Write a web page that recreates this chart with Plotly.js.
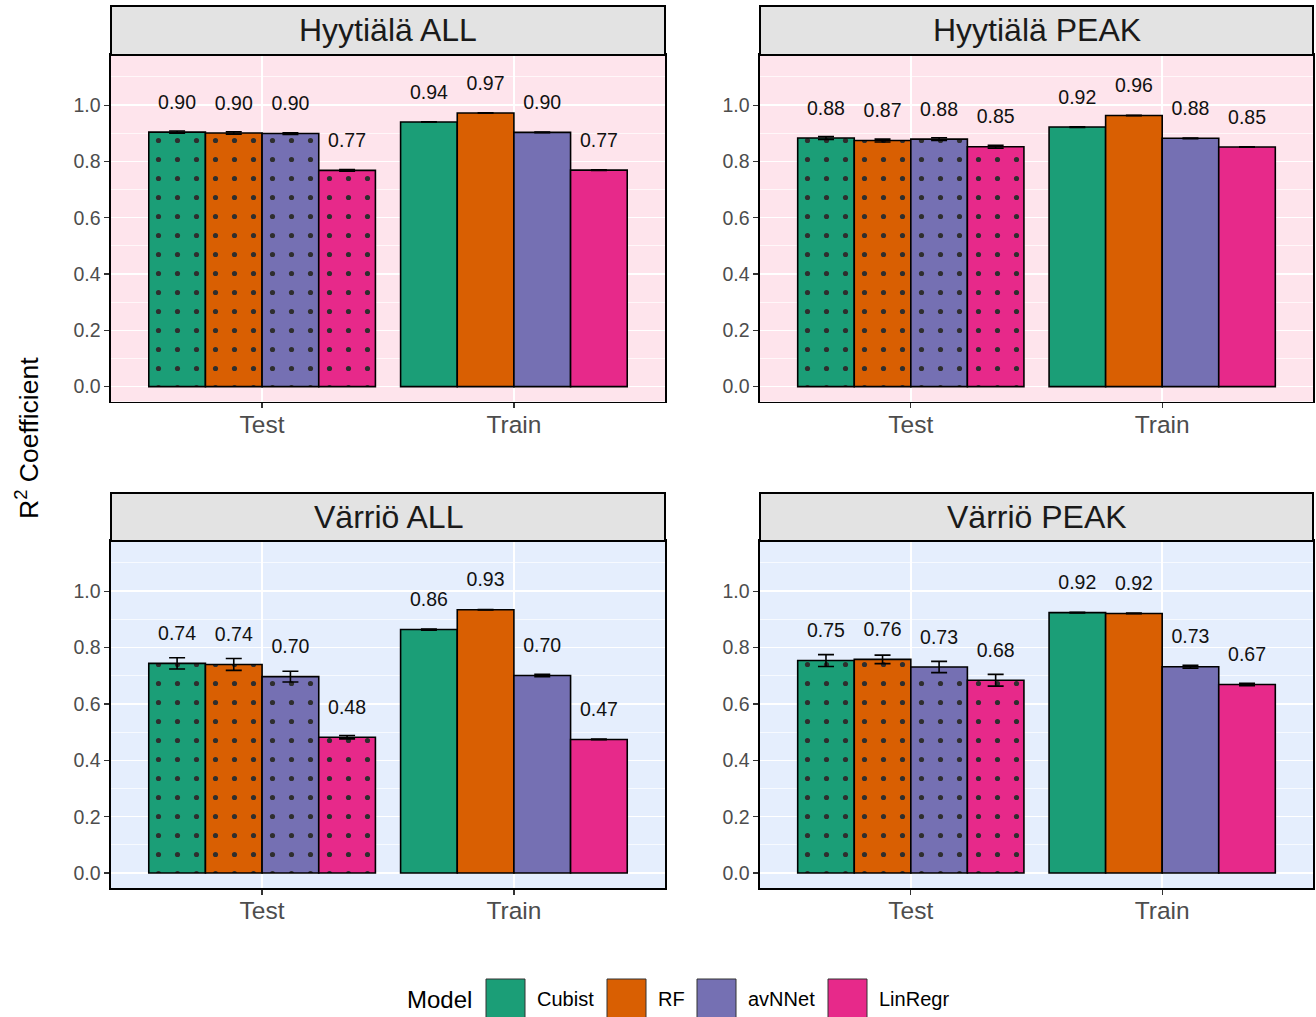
<!DOCTYPE html>
<html><head><meta charset="utf-8">
<script src="https://cdn.plot.ly/plotly-3.0.1.min.js"></script>
<style>html,body{margin:0;padding:0;background:#fff;}#chart{width:1316px;height:1017px;}</style>
</head><body><div id="chart"></div>
<script>
// ---------------- DATA ----------------
const categories = ['Test', 'Train'];
const models = ['Cubist', 'RF', 'avNNet', 'LinRegr'];
const panelTitles = ['Hyytiälä ALL', 'Hyytiälä PEAK', 'Värriö ALL', 'Värriö PEAK'];
const yTickLabels = ['0.0', '0.2', '0.4', '0.6', '0.8', '1.0'];
const yTickValues = [0, 0.2, 0.4, 0.6, 0.8, 1.0];

// values per model (Cubist, RF, avNNet, LinRegr)
const hyyAllTest      = [0.904, 0.901, 0.899, 0.768];
const hyyAllTestErr   = [0.004, 0.004, 0.003, 0.003];
const hyyAllTrain     = [0.940, 0.972, 0.903, 0.769];
const hyyAllTrainErr  = [0.001, 0.001, 0.001, 0.001];

const hyyPeakTest     = [0.883, 0.874, 0.879, 0.852];
const hyyPeakTestErr  = [0.005, 0.005, 0.005, 0.005];
const hyyPeakTrain    = [0.922, 0.963, 0.882, 0.851];
const hyyPeakTrainErr = [0.001, 0.001, 0.001, 0.001];

const varAllTest      = [0.744, 0.740, 0.697, 0.482];
const varAllTestErr   = [0.020, 0.021, 0.019, 0.006];
const varAllTrain     = [0.864, 0.934, 0.701, 0.474];
const varAllTrainErr  = [0.002, 0.001, 0.004, 0.001];

const varPeakTest     = [0.754, 0.758, 0.731, 0.684];
const varPeakTestErr  = [0.021, 0.015, 0.020, 0.021];
const varPeakTrain    = [0.924, 0.921, 0.732, 0.669];
const varPeakTrainErr = [0.001, 0.001, 0.005, 0.004];

// ---------------- STYLE / LAYOUT ----------------
const modelColors = ['#1B9E77', '#D95F02', '#7570B3', '#E7298A'];
const panelBg = ['#FEE4EC', '#FEE4EC', '#E5EEFD', '#E5EEFD'];
const W = 1316, H = 1017;
const FONT = 'Liberation Sans, Arial, Helvetica, sans-serif';
const panelBox = [
  {x0: 111, x1: 665, y0: 55, y1: 401.5},
  {x0: 760, x1: 1313, y0: 55, y1: 401.5},
  {x0: 111, x1: 665, y0: 541, y1: 888},
  {x0: 760, x1: 1313, y0: 541, y1: 888}
];
const stripTop = [6, 6, 493, 493];
const dodge = 0.9;
const barW = dodge / models.length;
const labelOffset = 0.1;

const panelData = [
  {test: hyyAllTest, testErr: hyyAllTestErr, train: hyyAllTrain, trainErr: hyyAllTrainErr},
  {test: hyyPeakTest, testErr: hyyPeakTestErr, train: hyyPeakTrain, trainErr: hyyPeakTrainErr},
  {test: varAllTest, testErr: varAllTestErr, train: varAllTrain, trainErr: varAllTrainErr},
  {test: varPeakTest, testErr: varPeakTestErr, train: varPeakTrain, trainErr: varPeakTrainErr}
];

const traces = [];
const layout = {
  width: W, height: H,
  margin: {l: 0, r: 0, t: 0, b: 0},
  paper_bgcolor: '#FFFFFF',
  plot_bgcolor: 'rgba(0,0,0,0)',
  showlegend: false,
  font: {family: FONT, color: '#000'},
  shapes: [],
  annotations: []
};

const px = v => v / W;
const py = v => 1 - v / H;

panelData.forEach((pd, p) => {
  const sfx = p === 0 ? '' : String(p + 1);
  const xa = 'x' + sfx, ya = 'y' + sfx;
  const box = panelBox[p];
  const labX = [], labY = [], labT = [];
  models.forEach((m, mi) => {
    const off = (mi - (models.length - 1) / 2) * barW;
    const xs = categories.map((c, ci) => ci + 1 + off);
    const ys = [pd.test[mi], pd.train[mi]];
    const es = [pd.testErr[mi], pd.trainErr[mi]];
    traces.push({
      type: 'bar', xaxis: xa, yaxis: ya, name: m,
      x: xs, y: ys, width: barW,
      marker: {
        color: modelColors[mi],
        line: {color: '#000', width: 1.6},
        pattern: {shape: ['.', ''], fgcolor: '#2E2E2E', bgcolor: modelColors[mi], fgopacity: 1, size: 19, solidity: 0.058}
      },
      error_y: {type: 'data', array: es, visible: true, color: '#000', thickness: 1.6, width: 8},
      hoverinfo: 'skip', showlegend: false
    });
    xs.forEach((x, k) => { labX.push(x); labY.push(ys[k] + labelOffset); labT.push(ys[k].toFixed(2)); });
  });
  traces.push({
    type: 'scatter', mode: 'text', xaxis: xa, yaxis: ya,
    x: labX, y: labY, text: labT, textposition: 'middle center',
    textfont: {family: FONT, size: 19.5, color: '#111'},
    cliponaxis: false, hoverinfo: 'skip', showlegend: false
  });

  layout['xaxis' + sfx] = {
    domain: [px(box.x0), px(box.x1)], anchor: ya,
    range: [0.4, 2.6], tickvals: [1, 2], ticktext: categories,
    showgrid: true, gridcolor: '#FFFFFF', gridwidth: 1.4, zeroline: false,
    showline: true, mirror: true, linecolor: '#000', linewidth: 1.6,
    ticks: 'outside', ticklen: 5, tickwidth: 1.2, tickcolor: '#333',
    ticklabelstandoff: -5,
    tickfont: {family: FONT, size: 24.5, color: '#4D4D4D'}, fixedrange: true
  };
  layout['yaxis' + sfx] = {
    domain: [py(box.y1), py(box.y0)], anchor: xa,
    range: [-0.053, 1.178], tickvals: yTickValues, ticktext: yTickLabels,
    showgrid: true, gridcolor: '#FFFFFF', gridwidth: 1.4, zeroline: false,
    minor: {tickvals: [0.1, 0.3, 0.5, 0.7, 0.9, 1.1], showgrid: true, gridcolor: '#FFFFFF', gridwidth: 0.7, ticks: ''},
    showline: true, mirror: true, linecolor: '#000', linewidth: 1.6,
    ticks: 'outside', ticklen: 5, tickwidth: 1.2, tickcolor: '#333',
    tickfont: {family: FONT, size: 19.5, color: '#4D4D4D'}, fixedrange: true
  };
  layout.shapes.push({
    type: 'rect', xref: xa + ' domain', yref: ya + ' domain', x0: 0, x1: 1, y0: 0, y1: 1,
    fillcolor: panelBg[p], line: {width: 0}, layer: 'below'
  });
  layout.shapes.push({
    type: 'rect', xref: 'paper', yref: 'paper',
    x0: px(box.x0), x1: px(box.x1), y0: py(box.y0), y1: py(stripTop[p]),
    fillcolor: '#E3E3E3', line: {color: '#000', width: 2}, layer: 'above'
  });
  layout.annotations.push({
    xref: 'paper', yref: 'paper', x: px((box.x0 + box.x1) / 2), y: py((box.y0 + stripTop[p]) / 2),
    text: panelTitles[p], showarrow: false, xanchor: 'center', yanchor: 'middle',
    font: {family: FONT, size: 32, color: '#1A1A1A'}
  });
});

layout.annotations.push({
  xref: 'paper', yref: 'paper', x: px(27), y: py(438),
  text: 'R<sup>2</sup> Coefficient', textangle: -90, showarrow: false,
  xanchor: 'center', yanchor: 'middle', font: {family: FONT, size: 26.5, color: '#000'}
});

const legendBoxX = [486, 607, 697, 828];
const legendKey = 39;
const legendTop = 979;
layout.annotations.push({
  xref: 'paper', yref: 'paper', x: px(405), y: py(999), text: 'Model', showarrow: false,
  xanchor: 'left', yanchor: 'middle', font: {family: FONT, size: 24, color: '#000'}
});
models.forEach((m, mi) => {
  layout.shapes.push({
    type: 'rect', xref: 'paper', yref: 'paper',
    x0: px(legendBoxX[mi]), x1: px(legendBoxX[mi] + legendKey), y0: py(legendTop + legendKey), y1: py(legendTop),
    fillcolor: modelColors[mi], line: {color: '#333', width: 1}
  });
  layout.annotations.push({
    xref: 'paper', yref: 'paper', x: px(legendBoxX[mi] + legendKey + 10), y: py(999), text: m, showarrow: false,
    xanchor: 'left', yanchor: 'middle', font: {family: FONT, size: 20, color: '#000'}
  });
});

Plotly.newPlot('chart', traces, layout, {staticPlot: true, displayModeBar: false});
</script>
</body></html>
